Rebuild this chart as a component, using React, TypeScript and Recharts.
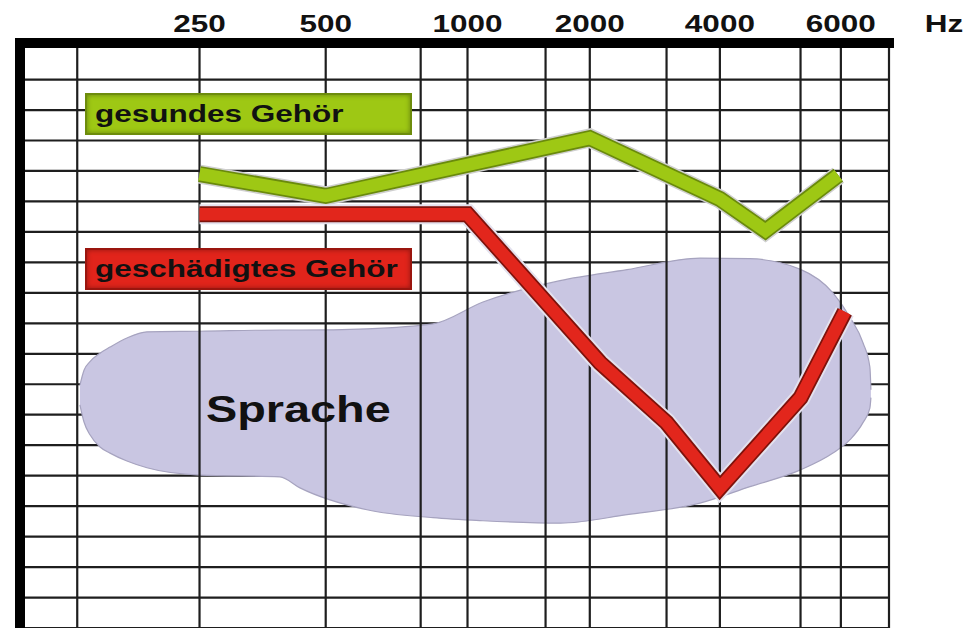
import React from 'react';
import {
  ComposedChart,
  Line,
  Area,
  XAxis,
  YAxis,
  CartesianGrid,
  ReferenceLine,
  ReferenceDot,
  Legend,
} from 'recharts';

// x = position on the frequency scale (octaves above 250 Hz, as drawn on the sheet)
// y = hearing loss in dB, 0 at the top edge, growing downwards
const freqTicks = [0, 0.97, 2.06, 3.0, 4.0, 4.93];
const freqLabels = ['250', '500', '1000', '2000', '4000', '6000'];
const gridX = [-0.94, 0, 0.97, 1.7, 2.06, 2.66, 3.0, 3.59, 4.0, 4.62, 4.93, 5.3];
const gridY = [5, 10, 15, 20, 25, 30, 35, 40, 45, 50, 55, 60, 65, 70, 75, 80, 85, 90];

const seriesNames = ['gesundes Gehör', 'geschädigtes Gehör'];

const healthyX = [0, 0.97, 3.0, 4.0, 4.35, 4.91];
const healthyDb = [20.5, 24.1, 14.6, 24.6, 29.8, 20.7];

const damagedX = [0, 2.06, 3.08, 3.59, 4.0, 4.62, 4.96];
const damagedDb = [27.1, 27.1, 51.5, 61.3, 72.0, 57.2, 43.1];

// speech area ("Sprache"), upper and lower edge
const speechX = [-0.919, -0.888, -0.842, -0.765, -0.688, -0.558, -0.404, 0, 0.618, 0.772, 1.287, 1.794, 2.179, 2.771, 3.286, 3.847, 4.231, 4.615, 4.869, 5.0, 5.1, 5.153, 5.161];
const speechTop = [55.1, 52.7, 51.3, 49.9, 48.9, 47.4, 46.4, 46.3, 46.1, 46.1, 45.9, 45.1, 41.5, 38.0, 36.2, 34.3, 34.4, 36.1, 40.0, 44.0, 48.2, 52.2, 55.9];
const speechBottom = [58.4, 61.2, 63.3, 65.3, 66.3, 67.6, 68.7, 69.9, 70.2, 72.0, 75.6, 76.9, 77.4, 77.8, 76.4, 74.5, 71.8, 69.1, 66.3, 64.1, 61.3, 58.9, 57.2];
const speechLabel = 'Sprache';
const speechLabelAt = { x: 0.76, y: 61.2 };

const healthy = healthyX.map((x, i) => ({ x, db: healthyDb[i] }));
const damaged = damagedX.map((x, i) => ({ x, db: damagedDb[i] }));
const speech = speechX.map((x, i) => ({ x, range: [speechTop[i], speechBottom[i]] }));

const FONT = '"Liberation Sans", Arial, Helvetica, sans-serif';
const STRETCH = 1.34;
const GRID = '#1e1e1e';

const boxFill = ['#9ec814', '#e1241b'];
const boxEdge = ['#6d8c0c', '#9a150e'];
const boxTop = [93, 248];

function FreqTick(props: any) {
  const { x, y, payload } = props;
  const label = freqLabels[freqTicks.indexOf(payload.value)];
  return (
    <g transform={`translate(${x},${y})`}>
      <text
        transform={`scale(${STRETCH},1)`}
        textAnchor="middle"
        dy={-11}
        fontFamily={FONT}
        fontWeight="bold"
        fontSize={23.5}
        fill="#111"
      >
        {label}
      </text>
    </g>
  );
}

function HzLabel(props: any) {
  const vb = props.viewBox || { x: 20, y: 13, width: 869, height: 30 };
  const cx = vb.x + vb.width + 55;
  const cy = vb.y + vb.height - 11;
  return (
    <g transform={`translate(${cx},${cy})`}>
      <text transform={`scale(${STRETCH},1)`} textAnchor="middle" fontFamily={FONT} fontWeight="bold" fontSize={23.5} fill="#111">
        Hz
      </text>
    </g>
  );
}

function SpeechLabel(props: any) {
  const vb = props.viewBox || { x: 0, y: 0 };
  return (
    <g transform={`translate(${vb.x},${vb.y})`}>
      <text transform="scale(1.3,1)" textAnchor="middle" fontFamily={FONT} fontWeight="bold" fontSize={36} fill="#111">
        {speechLabel}
      </text>
    </g>
  );
}

function LegendBoxes() {
  return (
    <div style={{ position: 'relative', width: 0, height: 0 }}>
      {seriesNames.map((name, i) => (
        <div
          key={name}
          style={{
            position: 'absolute',
            left: 85,
            top: boxTop[i],
            width: 327,
            height: 42,
            boxSizing: 'border-box',
            background: boxFill[i],
            border: `2px solid ${boxEdge[i]}`,
            boxShadow: 'inset 0 0 5px rgba(0,0,0,0.35)',
          }}
        >
          <span
            style={{
              position: 'absolute',
              left: 8,
              top: 0,
              lineHeight: '38px',
              fontFamily: FONT,
              fontWeight: 700,
              fontSize: 23.5,
              color: '#111',
              whiteSpace: 'nowrap',
              transform: `scaleX(${STRETCH})`,
              transformOrigin: 'left center',
            }}
          >
            {name}
          </span>
        </div>
      ))}
    </div>
  );
}

export default function App() {
  return (
    <div style={{ position: 'absolute', left: 0, top: 0, background: '#fff' }}>
      <ComposedChart width={966} height={628} margin={{ top: 13, right: 77, bottom: 0, left: 20 }}>
        <XAxis
          type="number"
          dataKey="x"
          orientation="top"
          domain={[-1.38, 5.3]}
          allowDataOverflow
          ticks={freqTicks}
          interval={0}
          tick={<FreqTick />}
          tickSize={0}
          tickMargin={0}
          tickLine={false}
          axisLine={false}
          height={30}
          label={(p: any) => <HzLabel {...p} />}
        />
        <YAxis type="number" domain={[-1, 95]} reversed allowDataOverflow ticks={gridY} interval={0} hide />
        <CartesianGrid vertical={false} stroke={GRID} strokeWidth={2.2} />
        {gridX.map((gx) => (
          <ReferenceLine key={gx} x={gx} stroke={GRID} strokeWidth={2.2} />
        ))}
        <ReferenceLine x={-1.38} stroke="#000" strokeWidth={10} />
        <ReferenceLine y={-1} stroke="#000" strokeWidth={10} strokeLinecap="square" />

        <Area
          data={speech}
          dataKey="range"
          type="monotone"
          fill="#c9c6e2"
          fillOpacity={1}
          stroke="#a6a3bf"
          strokeWidth={1.2}
          legendType="none"
          isAnimationActive={false}
        />

        <Line data={healthy} dataKey="db" stroke="#cfcfcf" strokeWidth={19} strokeLinejoin="miter" dot={false} activeDot={false} legendType="none" isAnimationActive={false} />
        <Line data={healthy} dataKey="db" stroke="#6a8a0c" strokeWidth={16} strokeLinejoin="miter" dot={false} activeDot={false} legendType="none" isAnimationActive={false} />
        <Line data={healthy} dataKey="db" name={seriesNames[0]} stroke="#9ec814" strokeWidth={12.5} strokeLinejoin="miter" dot={false} activeDot={false} isAnimationActive={false} />

        <Line data={damaged} dataKey="db" stroke="#e4e2ee" strokeWidth={20} strokeLinejoin="miter" dot={false} activeDot={false} legendType="none" isAnimationActive={false} />
        <Line data={damaged} dataKey="db" stroke="#7e120b" strokeWidth={16} strokeLinejoin="miter" dot={false} activeDot={false} legendType="none" isAnimationActive={false} />
        <Line data={damaged} dataKey="db" name={seriesNames[1]} stroke="#e2261c" strokeWidth={12.5} strokeLinejoin="miter" dot={false} activeDot={false} isAnimationActive={false} />

        <ReferenceDot
          x={speechLabelAt.x}
          y={speechLabelAt.y}
          r={0}
          fill="none"
          stroke="none"
          label={(p: any) => <SpeechLabel {...p} />}
        />

        <Legend content={<LegendBoxes />} wrapperStyle={{ left: 0, top: 0, width: 0, height: 0 }} />
      </ComposedChart>
    </div>
  );
}
